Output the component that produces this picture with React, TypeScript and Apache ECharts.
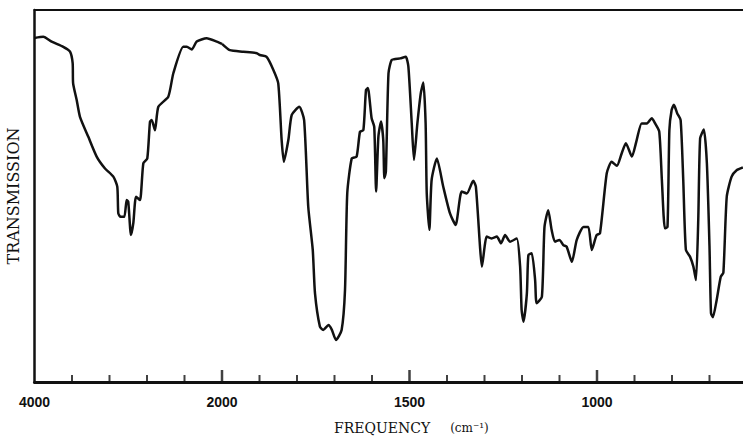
import React, { useEffect, useRef } from "react";
import * as echarts from "echarts";

// Wavenumber (cm-1), descending, and percent transmission
const wavenumbers = [
  4000, 3906, 3817, 3693, 3621, 3593, 3588, 3550, 3515, 3426, 3337, 3248, 3159, 3117, 3106,
  3081, 3042, 3017, 3000, 2971, 2946, 2917, 2875, 2839, 2797, 2768, 2750, 2715, 2679, 2573,
  2519, 2413, 2376, 2323, 2270, 2163, 2056, 2000,
  1979, 1943, 1907, 1899, 1881, 1863, 1850, 1841, 1835, 1823, 1814, 1794, 1781, 1770, 1758,
  1752, 1739, 1730, 1716, 1707, 1696, 1681, 1672, 1666, 1654, 1641, 1632, 1623, 1616, 1611,
  1601, 1594, 1589, 1583, 1576, 1570, 1567, 1563, 1556, 1547, 1525, 1510, 1503, 1494, 1488,
  1479, 1470, 1463, 1457, 1454, 1447, 1441, 1427, 1410, 1392, 1377, 1361, 1347, 1330, 1323,
  1312, 1307, 1294, 1281, 1267, 1256, 1245, 1232, 1214, 1205, 1201, 1196, 1187, 1183, 1174,
  1165, 1161, 1147, 1140, 1130, 1121, 1112, 1100, 1090, 1081, 1067, 1054, 1036, 1023, 1014,
  1001, 992, 974, 961, 947, 934, 923, 907, 894, 881, 867, 854, 845, 834, 827, 819, 812, 807,
  801, 795, 786, 777, 770, 763, 752, 743, 736, 730, 725, 715, 707, 700, 696, 691, 681, 670,
  663, 654, 641, 627, 611,
];

const transmission = [
  92.5, 92.8, 91.5, 90.1, 88.8, 85.7, 80.3, 75.8, 71.3, 65.9, 60.6, 57.4, 55.2, 52.5, 45.3,
  44.4, 44.4, 48.9, 48.5, 39.5, 42.7, 49.8, 48.9, 58.8, 60.1, 70.0, 70.4, 67.7, 74.0, 76.7,
  83.0, 90.1, 90.1, 89.4, 91.5, 92.4, 91.5, 90.9,
  89.2, 88.8, 88.4, 87.9, 87.4, 83.9, 80.3, 65.1, 59.2, 65.1, 71.8, 74.0, 70.4, 47.1, 35.5,
  23.8, 14.9, 14.0, 15.3, 14.0, 11.3, 14.0, 24.7, 50.7, 60.1, 60.6, 67.3, 67.7, 78.5, 79.0,
  70.9, 68.6, 51.2, 65.9, 70.0, 65.1, 54.8, 56.5, 83.0, 86.6, 87.0, 87.4, 84.8, 69.5, 59.7,
  69.5, 77.6, 80.5, 69.5, 50.7, 40.9, 54.3, 60.1, 52.5, 45.3, 42.2, 51.2, 50.7, 54.1, 52.5,
  36.4, 31.0, 39.1, 38.6, 39.1, 37.3, 39.5, 37.7, 38.6, 31.0, 19.4, 16.2, 23.8, 34.1, 34.6,
  27.4, 21.2, 22.9, 41.7, 46.2, 40.9, 37.7, 38.2, 36.8, 36.4, 32.3, 38.2, 41.7, 41.7, 35.5,
  39.5, 40.0, 56.1, 59.2, 58.1, 61.5, 64.2, 60.6, 65.1, 69.5, 69.5, 70.9, 69.5, 67.3, 54.3,
  41.3, 41.7, 67.7, 73.1, 74.5, 72.2, 70.4, 54.3, 35.5, 33.7, 31.0, 27.4, 43.5, 65.5, 67.9,
  58.8, 36.4, 18.5, 17.4, 22.0, 28.3, 29.4, 49.8, 55.2, 57.0, 57.7,
];

// Axis scales: 4000-2000 at 400 per tick, 2000-600 at 100 per tick
const highRange = [2000, 4000];
const highStep = 400;
const lowRange = [600, 2000];
const lowStep = 100;
const tickLabels = [4000, 2000, 1500, 1000];
const highMinorTicks = [3600, 3200, 2800, 2400];
const lowMinorTicks = [1900, 1800, 1700, 1600, 1400, 1300, 1200, 1100, 900, 800, 700];
const majorTicks = [2000, 1500, 1000];

const INK = "#111";

export default function App() {
  const ref = useRef<HTMLDivElement>(null);

  useEffect(() => {
    if (!ref.current) return;
    const chart = echarts.init(ref.current, null, { renderer: "svg" });

    const pairs = wavenumbers.map((w, i) => [w, transmission[i]]);
    const highData = pairs.filter((p) => p[0] >= 2000);
    const lowData = pairs.filter((p) => p[0] <= 2000);

    // pixel scale of the low-frequency part: 37.5 px per 100 cm-1
    const lowPxPerUnit = 0.375;
    const lowLeft = 222;

    const labelStyle = {
      show: true,
      color: INK,
      fontFamily: "Liberation Sans",
      fontWeight: "bold" as const,
      fontSize: 14,
      margin: 13,
      showMinLabel: true,
      showMaxLabel: true,
      formatter: (v: number) => (tickLabels.includes(v) ? String(v) : ""),
    };

    const baseAxis = (gridIndex: number, range: number[], step: number) => ({
      type: "value" as const,
      gridIndex,
      inverse: true,
      min: range[0],
      max: range[1],
      interval: step,
      splitLine: { show: false },
    });

    const tickSeries = (axis: number, values: number[], h: number, w: number) => ({
      type: "scatter",
      xAxisIndex: axis,
      yAxisIndex: axis,
      data: values.map((v) => [v, 0]),
      symbol: "rect",
      symbolSize: [w, h],
      symbolOffset: [0, -h / 2],
      itemStyle: { color: INK },
      silent: true,
      clip: false,
      z: 3,
    });

    chart.setOption({
      animation: false,
      backgroundColor: "#fff",
      title: {
        text: "{a|FREQUENCY}    {b|(cm⁻¹)}",
        left: 334,
        top: 419,
        padding: 0,
        textStyle: {
          fontWeight: "normal",
          rich: {
            a: { fontFamily: "DejaVu Serif", fontSize: 14, color: INK, fontWeight: "normal" },
            b: { fontFamily: "DejaVu Serif", fontSize: 12, color: INK, fontWeight: "normal" },
          },
        },
      },
      grid: [
        { left: 34.5, top: 10, width: 187.5, height: 372 },
        {
          left: lowLeft,
          top: 10,
          width: (lowRange[1] - lowRange[0]) * lowPxPerUnit,
          height: 372,
        },
      ],
      xAxis: [
        {
          ...baseAxis(0, highRange, highStep),
          position: "bottom",
          axisLine: { show: true, lineStyle: { color: INK, width: 3 } },
          axisTick: { show: false },
          axisLabel: labelStyle,
        },
        {
          ...baseAxis(1, lowRange, lowStep),
          position: "bottom",
          axisLine: { show: true, lineStyle: { color: INK, width: 3 } },
          axisTick: { show: false },
          axisLabel: { ...labelStyle, showMaxLabel: false },
        },
        {
          ...baseAxis(0, highRange, highStep),
          position: "top",
          axisLine: { show: true, lineStyle: { color: INK, width: 2 } },
          axisTick: { show: false },
          axisLabel: { show: false },
        },
        {
          ...baseAxis(1, lowRange, lowStep),
          position: "top",
          axisLine: { show: true, lineStyle: { color: INK, width: 2 } },
          axisTick: { show: false },
          axisLabel: { show: false },
        },
      ],
      yAxis: [
        {
          type: "value",
          gridIndex: 0,
          min: 0,
          max: 100,
          position: "left",
          axisLine: { show: true, lineStyle: { color: INK, width: 2.5 } },
          axisTick: { show: false },
          axisLabel: { show: false },
          splitLine: { show: false },
          name: "TRANSMISSION",
          nameLocation: "middle",
          nameGap: 13,
          nameTextStyle: { fontFamily: "DejaVu Serif", fontSize: 16, color: INK },
        },
        { type: "value", gridIndex: 1, min: 0, max: 100, show: false },
      ],
      series: [
        {
          type: "line",
          xAxisIndex: 0,
          yAxisIndex: 0,
          data: highData,
          showSymbol: false,
          smooth: 0.2,
          clip: false,
          lineStyle: { color: INK, width: 2.5 },
        },
        {
          type: "line",
          xAxisIndex: 1,
          yAxisIndex: 1,
          data: lowData,
          showSymbol: false,
          smooth: 0.2,
          clip: false,
          lineStyle: { color: INK, width: 2.5 },
        },
        tickSeries(0, highMinorTicks, 7, 2),
        tickSeries(1, lowMinorTicks, 7, 2),
        tickSeries(1, majorTicks, 12, 2.5),
      ],
    });

    return () => chart.dispose();
  }, []);

  return (
    <div
      style={{
        position: "absolute",
        left: 0,
        top: 0,
        width: 743,
        height: 438,
        overflow: "hidden",
        background: "#fff",
      }}
    >
      <div ref={ref} style={{ width: 800, height: 438 }} />
    </div>
  );
}
